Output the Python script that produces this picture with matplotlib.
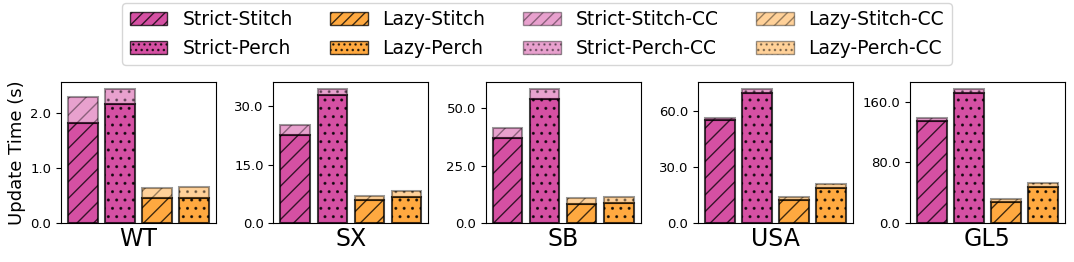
import numpy as np
import matplotlib
matplotlib.use('Agg')
import matplotlib.pyplot as plt
from matplotlib.patches import Patch

datasets = ['WT', 'SX', 'SB', 'USA', 'GL5']
methods = ['Strict-Stitch', 'Strict-Perch', 'Lazy-Stitch', 'Lazy-Perch']

# base update time (s) per dataset, in method order
base = {
    'WT':  [1.82, 2.16, 0.45, 0.45],
    'SX':  [22.6, 32.8, 5.8, 6.7],
    'SB':  [37.3, 54.0, 8.1, 8.8],
    'USA': [55.0, 69.6, 12.0, 18.5],
    'GL5': [135.0, 172.0, 27.5, 47.5],
}
# total update time incl. CC
total = {
    'WT':  [2.29, 2.44, 0.64, 0.65],
    'SX':  [25.1, 34.5, 7.0, 8.1],
    'SB':  [41.3, 58.6, 10.7, 11.2],
    'USA': [56.3, 71.7, 13.9, 20.6],
    'GL5': [139.0, 177.3, 31.5, 53.0],
}
yticks = {
    'WT': [0.0, 1.0, 2.0],
    'SX': [0.0, 15.0, 30.0],
    'SB': [0.0, 25.0, 50.0],
    'USA': [0.0, 30.0, 60.0],
    'GL5': [0.0, 80.0, 160.0],
}

colors = ['mediumvioletred', 'mediumvioletred', 'darkorange', 'darkorange']
hatches = ['//', '..', '//', '..']

fig, axes = plt.subplots(1, 5, figsize=(10.74, 2.62), dpi=100)
fig.subplots_adjust(left=0.057, right=0.9916, bottom=0.149, top=0.687, wspace=0.37)

x = np.arange(len(methods))
for ax, d in zip(axes, datasets):
    b = np.array(base[d])
    cc = np.array(total[d]) - b
    for i in range(len(methods)):
        ax.bar(x[i], b[i], width=0.8, color=colors[i], alpha=0.75,
               edgecolor='black', linewidth=1.5, hatch=hatches[i])
        ax.bar(x[i], cc[i], bottom=b[i], width=0.8, color=colors[i], alpha=0.4,
               edgecolor='black', linewidth=1.5, hatch=hatches[i])
    ax.set_ylim(0, max(total[d]) * 1.05)
    ax.set_yticks(yticks[d])
    ax.set_yticklabels(['%.1f' % t for t in yticks[d]], fontsize=9.5)
    ax.set_xticks([])
    ax.set_xlabel(d, fontsize=17, labelpad=3)

axes[0].set_ylabel('Update Time (s)', fontsize=13, labelpad=3)

handles = []
labels = []
for alpha, suffix in [(0.75, ''), (0.4, '-CC')]:
    for i, m in enumerate(methods):
        handles.append(Patch(facecolor=colors[i], edgecolor='black', alpha=alpha,
                             hatch='///' if hatches[i] == '//' else '...'))
        labels.append(m + suffix)
fig.legend(handles, labels, loc='upper center', bbox_to_anchor=(0.5, 1.0),
           ncol=4, fontsize=13.5, borderaxespad=0.15)

plt.savefig('out.png', dpi=100)
